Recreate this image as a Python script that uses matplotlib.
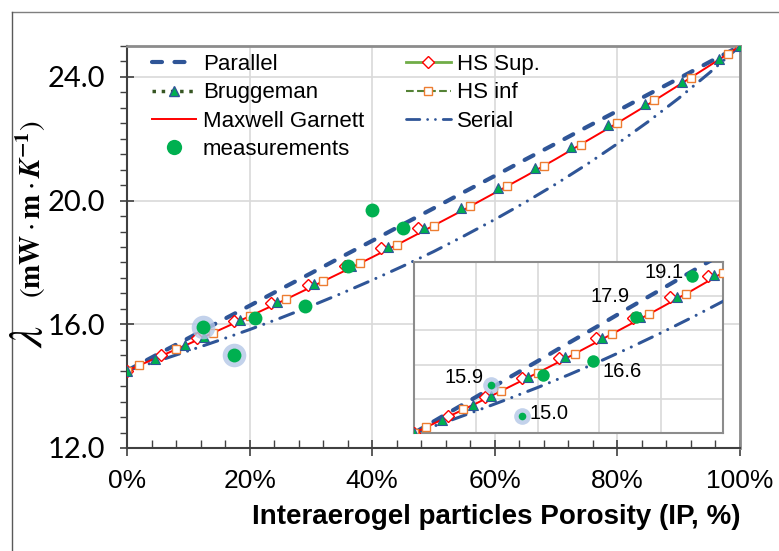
import matplotlib
matplotlib.use('Agg')
import matplotlib.pyplot as plt
from matplotlib.lines import Line2D
from matplotlib.ticker import MultipleLocator, PercentFormatter, FormatStrFormatter

plt.rcParams['font.family'] = ['Liberation Sans', 'DejaVu Sans']
plt.rcParams['mathtext.fontset'] = 'stix'

# porosite (fraction) et conductivites
phi = [0, .05, .10, .15, .20, .25, .30, .35, .40, .45, .50,
       .55, .60, .65, .70, .75, .80, .85, .90, .95, 1.0]
parallel = [14.50, 15.03, 15.55, 16.08, 16.60, 17.13, 17.65, 18.18, 18.70, 19.23, 19.75,
            20.28, 20.80, 21.33, 21.85, 22.38, 22.90, 23.43, 23.95, 24.48, 25.00]
serial = [14.50, 14.81, 15.14, 15.48, 15.83, 16.20, 16.59, 17.00, 17.43, 17.88, 18.35,
          18.86, 19.39, 19.95, 20.54, 21.17, 21.84, 22.55, 23.31, 24.13, 25.00]
maxwell = [14.50, 14.93, 15.36, 15.81, 16.26, 16.72, 17.20, 17.68, 18.17, 18.67, 19.19,
           19.71, 20.25, 20.79, 21.35, 21.93, 22.51, 23.11, 23.73, 24.36, 25.00]

# HS sup (losanges)
phi_sup = [0, .055, .115, .175, .235, .295, .355, .415, .475]
hs_sup = [14.50, 15.00, 15.56, 16.12, 16.69, 17.28, 17.87, 18.48, 19.10]

# HS inf (carres)
phi_inf = [0, .02, .08, .14, .20, .26, .32, .38, .44, .50,
           .56, .62, .68, .74, .80, .86, .92, .98, 1.0]
hs_inf = [14.50, 14.67, 15.19, 15.72, 16.26, 16.82, 17.39, 17.97, 18.57, 19.19,
          19.82, 20.46, 21.13, 21.81, 22.51, 23.24, 23.98, 24.74, 25.00]

# Bruggeman (triangles)
phi_brug = [0, .045, .095, .125, .185, .245, .305, .365, .425, .485,
            .545, .605, .665, .725, .785, .845, .905, .965, 1.0]
bruggeman = [14.50, 14.89, 15.32, 15.59, 16.14, 16.71, 17.29, 17.88, 18.49, 19.12,
             19.76, 20.41, 21.07, 21.75, 22.44, 23.14, 23.85, 24.57, 25.00]

# mesures
meas_phi = [0.124, 0.175, 0.209, 0.29, 0.36, 0.40, 0.45]
meas_val = [15.9, 15.0, 16.2, 16.6, 17.9, 19.7, 19.1]
halo_idx = [0, 1]
labelled = {0: '15.9', 1: '15.0', 3: '16.6', 4: '17.9', 6: '19.1'}

BLUE = '#2F5597'
RED = '#FF0000'
GREEN = '#00B050'
ORANGE = '#ED7D31'
HALO = '#B4C7E7'


def draw_models(a):
    a.plot(phi, parallel, color=BLUE, lw=3, ls=(0, (2.4, 3.0)),
           dash_capstyle='round', zorder=3)
    a.plot(phi, serial, color=BLUE, lw=2.2, ls=(0, (4.8, 2.8, 0.01, 2.8, 0.01, 2.8)),
           dash_capstyle='round', zorder=3)
    a.plot(phi, maxwell, color=RED, lw=1.4, zorder=4)
    a.plot(phi_sup, hs_sup, ls='none', marker='D', ms=6, mfc='white',
           mec=RED, mew=1.0, zorder=5)
    a.plot(phi_inf, hs_inf, ls='none', marker='s', ms=5.5, mfc='white',
           mec=ORANGE, mew=1.0, zorder=5)
    a.plot(phi_brug, bruggeman, ls='none', marker='^', ms=6.5, mfc=GREEN,
           mec=BLUE, mew=0.8, zorder=6)


fig = plt.figure(figsize=(7.79, 5.51), dpi=100)

# cadre exterieur
fig.add_artist(Line2D([12 / 779, 1], [1 - 12 / 551] * 2, color='#7F7F7F', lw=1))
fig.add_artist(Line2D([12 / 779] * 2, [0, 1 - 12 / 551], color='#595959', lw=1))

ax = fig.add_axes([127 / 779, 1 - 448 / 551, 613 / 779, 402 / 551])
draw_models(ax)
for i, (x, y) in enumerate(zip(meas_phi, meas_val)):
    if i in halo_idx:
        ax.plot(x, y, 'o', ms=17, color=HALO, alpha=0.8, mew=0, zorder=7)
    ax.plot(x, y, 'o', ms=10, color=GREEN, mew=0, zorder=8)

ax.set_xlim(0, 1)
ax.set_ylim(12, 25)
ax.xaxis.set_major_locator(MultipleLocator(0.2))
ax.xaxis.set_minor_locator(MultipleLocator(0.04))
ax.yaxis.set_major_locator(MultipleLocator(4))
ax.yaxis.set_minor_locator(MultipleLocator(0.5))
ax.xaxis.set_major_formatter(PercentFormatter(xmax=1, decimals=0))
ax.yaxis.set_major_formatter(FormatStrFormatter('%.1f'))
ax.grid(True, which='major', color='#D9D9D9', lw=1.2, zorder=0)
ax.set_axisbelow(True)
ax.tick_params(axis='x', which='major', direction='inout', length=12, width=1.2,
               color='#404040', pad=9, labelsize=19)
ax.tick_params(axis='x', which='minor', direction='in', length=6, width=1.0, color='#404040')
ax.tick_params(axis='y', which='major', direction='inout', length=10, width=1.2,
               color='#404040', pad=11, labelsize=21)
ax.tick_params(axis='y', which='minor', direction='out', length=5, width=1.0, color='#404040')
for lab in ax.get_yticklabels():
    lab.set_family(['Lato', 'DejaVu Sans'])
for s in ['left', 'bottom']:
    ax.spines[s].set_color('#404040')
    ax.spines[s].set_linewidth(1.5)
for s in ['top', 'right']:
    ax.spines[s].set_color('#8C8C8C')
    ax.spines[s].set_linewidth(2)

ax.set_xlabel('Interaerogel particles Porosity (IP, %)', fontsize=20, fontweight='bold',
              loc='right', labelpad=8)
fig.text(30 / 779, 1 - 337 / 551, r'$\lambda$', rotation=90, fontsize=34,
         ha='center', va='center')
fig.text(31 / 779, 1 - 209 / 551, r'$(\mathbf{mW}\cdot\mathbf{m}\cdot\mathbfit{K}^{\mathbf{-1}})$',
         rotation=90, fontsize=21, ha='center', va='center')

handles = [
    Line2D([], [], color=BLUE, lw=3, ls=(0, (2.4, 3.0)), dash_capstyle='round'),
    Line2D([], [], color='#375623', lw=2.5, ls=':', marker='^', ms=6.5, mfc=GREEN, mec=BLUE),
    Line2D([], [], color=RED, lw=1.4),
    Line2D([], [], ls='none', marker='o', ms=11, color=GREEN, mew=0),
    Line2D([], [], color='#70AD47', lw=2, marker='D', ms=6, mfc='white', mec=RED),
    Line2D([], [], color='#548235', lw=1.5, ls='--', marker='s', ms=5.5, mfc='white', mec=ORANGE),
    Line2D([], [], color=BLUE, lw=2, ls=(0, (4.8, 2.8, 0.01, 2.8, 0.01, 2.8)),
           dash_capstyle='round'),
]
labels = ['Parallel', 'Bruggeman', 'Maxwell Garnett', 'measurements',
          'HS Sup.', 'HS inf', 'Serial']
ax.legend(handles, labels, ncol=2, loc='upper left', bbox_to_anchor=(0.04, 0.98),
          frameon=False, fontsize=16, handlelength=2.0, handletextpad=0.3,
          columnspacing=1.9, labelspacing=0.33, borderpad=0, borderaxespad=0,
          numpoints=1)

# encart (zoom 0-50 %)
axin = fig.add_axes([414 / 779, 1 - 433 / 551, 309 / 779, 171 / 551])
axin.set_facecolor('white')
draw_models(axin)
for i, (x, y) in enumerate(zip(meas_phi, meas_val)):
    if i in halo_idx:
        axin.plot(x, y, 'o', ms=12, color=HALO, alpha=0.8, mew=0, zorder=7)
        axin.plot(x, y, 'o', ms=5.5, color=GREEN, mew=0, zorder=8)
    else:
        axin.plot(x, y, 'o', ms=9, color=GREEN, mew=0, zorder=8)
offsets = {0: (-7, 8, 'right'), 1: (7, 2, 'left'), 3: (9, -10, 'left'),
           4: (-7, 20, 'right'), 6: (-8, 3, 'right')}
for i, txt in labelled.items():
    dx, dy, ha = offsets[i]
    axin.annotate(txt, (meas_phi[i], meas_val[i]), xytext=(dx, dy),
                  textcoords='offset pixels', ha=ha, va='center', fontsize=14.5, zorder=9)
axin.set_xlim(0, 0.5)
axin.set_ylim(14.5, 19.5)
axin.set_xticks([0.1, 0.2, 0.3, 0.4])
axin.set_yticks([15.5, 16.5, 17.5, 18.5])
axin.tick_params(length=0, labelbottom=False, labelleft=False)
axin.grid(True, color='#D9D9D9', lw=1.2)
axin.set_axisbelow(True)
for s in axin.spines.values():
    s.set_color('#8C8C8C')
    s.set_linewidth(1.5)

fig.savefig('out.png', dpi=100)
